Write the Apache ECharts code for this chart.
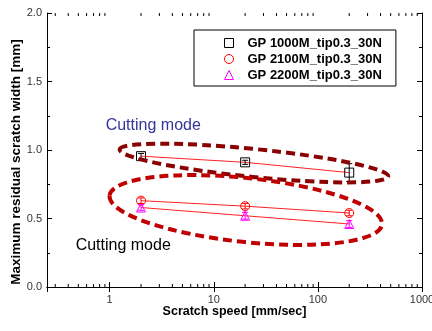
<!DOCTYPE html>
<html>
<head>
<meta charset="utf-8">
<script src="https://cdn.jsdelivr.net/npm/echarts@6/dist/echarts.min.js"></script>
<style>
  html, body { margin: 0; padding: 0; background: #fff; }
  #chart { width: 432px; height: 331px; }
</style>
</head>
<body>
<div id="chart"></div>
<script>
// 数据
var speeds = [2, 20, 200];
var gp1000 = [0.955, 0.91, 0.835];
var gp2100 = [0.63, 0.59, 0.54];
var gp2200 = [0.58, 0.52, 0.46];
var err1000 = [0.02, 0.015, 0.065];
var err2100 = [0.02, 0.02, 0.02];
var err2200 = [0.02, 0.025, 0.025];
var seriesNames = ['GP 1000M_tip0.3_30N', 'GP 2100M_tip0.3_30N', 'GP 2200M_tip0.3_30N'];
var xMinorTicks = [0.3, 0.4, 0.5, 0.6, 0.7, 0.8, 0.9,
  2, 3, 4, 5, 6, 7, 8, 9,
  20, 30, 40, 50, 60, 70, 80, 90,
  200, 300, 400, 500, 600, 700, 800, 900];
var annotationText = 'Cutting mode';

var font = 'Liberation Sans, Arial, sans-serif';
var zip = function(ys) { return speeds.map(function(x, i) { return [x, ys[i]]; }); };
var zipErr = function(ys, es) { return speeds.map(function(x, i) { return [x, ys[i], es[i]]; }); };

var lineSeries = function(name, ys, symbol, color) {
  return {
    name: name,
    type: 'line',
    data: zip(ys),
    symbol: symbol,
    symbolSize: 9,
    itemStyle: { color: 'rgba(0,0,0,0)', borderColor: color, borderWidth: 1 },
    lineStyle: { color: '#f22', width: 1 },
    emphasis: { disabled: true },
    z: 3
  };
};

var errSeries = function(ys, es, color) {
  return {
    type: 'custom',
    data: zipErr(ys, es),
    silent: true,
    z: 4,
    renderItem: function(params, api) {
      var hi = api.coord([api.value(0), api.value(1) + api.value(2)]);
      var lo = api.coord([api.value(0), api.value(1) - api.value(2)]);
      var st = { stroke: color, lineWidth: 1 };
      return {
        type: 'group',
        children: [
          { type: 'line', shape: { x1: hi[0], y1: hi[1], x2: lo[0], y2: lo[1] }, style: st },
          { type: 'line', shape: { x1: hi[0] - 3, y1: hi[1], x2: hi[0] + 3, y2: hi[1] }, style: st },
          { type: 'line', shape: { x1: lo[0] - 3, y1: lo[1], x2: lo[0] + 3, y2: lo[1] }, style: st }
        ]
      };
    }
  };
};

var tickStyle = { show: true, inside: true, length: 5, lineStyle: { color: '#000', width: 1 } };
var minorStyle = { show: true, splitNumber: 2, length: 3, lineStyle: { color: '#000', width: 1 } };

var option = {
  animation: false,
  backgroundColor: '#fff',
  grid: { left: 47, right: 10, top: 13, bottom: 44, outerBoundsMode: 'none', containLabel: false },
  legend: {
    orient: 'vertical',
    left: 194,
    top: 30,
    padding: [5, 14, 3, 30],
    itemWidth: 9,
    itemHeight: 9,
    itemGap: 0,
    borderColor: '#000',
    borderWidth: 1,
    borderRadius: 0,
    selectedMode: false,
    textStyle: { fontFamily: font, fontSize: 13, fontWeight: 'bold', color: '#000', lineHeight: 16, padding: [0, 0, 0, 9] },
    data: [
      { name: seriesNames[0], icon: 'rect', itemStyle: { color: 'rgba(0,0,0,0)', borderColor: '#000', borderWidth: 1 } },
      { name: seriesNames[1], icon: 'circle', itemStyle: { color: 'rgba(0,0,0,0)', borderColor: '#f00', borderWidth: 1 } },
      { name: seriesNames[2], icon: 'triangle', itemStyle: { color: 'rgba(0,0,0,0)', borderColor: '#f0f', borderWidth: 1 } }
    ]
  },
  xAxis: [
    {
      type: 'log', logBase: 10, min: 0.25, max: 1000, position: 'bottom',
      axisLine: { lineStyle: { color: '#000', width: 1 } },
      axisTick: tickStyle,
      axisLabel: {
        showMinLabel: false, fontFamily: font, fontSize: 11, color: '#333', margin: 7,
        formatter: function(v) { return String(Math.round(v)); }
      },
      splitLine: { show: false },
      name: 'Scratch speed [mm/sec]',
      nameLocation: 'middle',
      nameGap: 18,
      nameMoveOverlap: false,
      nameTextStyle: { fontFamily: font, fontSize: 12.5, fontWeight: 'bold', color: '#000' }
    },
    {
      type: 'log', logBase: 10, min: 0.25, max: 1000, position: 'top',
      axisLine: { lineStyle: { color: '#000', width: 1 } },
      axisTick: tickStyle,
      axisLabel: { show: false },
      splitLine: { show: false }
    }
  ],
  yAxis: [
    {
      type: 'value', min: 0, max: 2, interval: 0.5, position: 'left',
      axisLine: { show: true, lineStyle: { color: '#000', width: 1 } },
      axisTick: tickStyle,
      minorTick: minorStyle,
      axisLabel: { fontFamily: font, fontSize: 11, color: '#333', margin: 5, formatter: function(v) { return v.toFixed(1); } },
      splitLine: { show: false },
      name: 'Maximum residual scratch width [mm]',
      nameLocation: 'middle',
      nameGap: 24,
      nameMoveOverlap: false,
      nameTextStyle: { fontFamily: font, fontSize: 13.5, fontWeight: 'bold', color: '#000', padding: [0, 24, 0, 0] }
    },
    {
      type: 'value', min: 0, max: 2, interval: 0.5, position: 'right',
      axisLine: { show: true, lineStyle: { color: '#000', width: 1 } },
      axisTick: tickStyle,
      minorTick: minorStyle,
      axisLabel: { show: false },
      splitLine: { show: false }
    }
  ],
  series: [
    lineSeries(seriesNames[0], gp1000, 'rect', '#000'),
    lineSeries(seriesNames[1], gp2100, 'circle', '#f00'),
    lineSeries(seriesNames[2], gp2200, 'triangle', '#f0f'),
    errSeries(gp1000, err1000, '#000'),
    errSeries(gp2100, err2100, '#f00'),
    errSeries(gp2200, err2200, '#f0f'),
    {
      // log轴的次刻度（上下两边）
      type: 'custom',
      data: xMinorTicks.map(function(v) { return [v, 0]; }),
      silent: true,
      renderItem: function(params, api) {
        var b = api.coord([api.value(0), 0]);
        var t = api.coord([api.value(0), 2]);
        var st = { stroke: '#000', lineWidth: 1 };
        return {
          type: 'group',
          children: [
            { type: 'line', shape: { x1: b[0], y1: b[1], x2: b[0], y2: b[1] - 3 }, style: st },
            { type: 'line', shape: { x1: t[0], y1: t[1], x2: t[0], y2: t[1] + 3 }, style: st }
          ]
        };
      }
    }
  ]
};

var myChart = echarts.init(document.getElementById('chart'), null, { renderer: 'canvas' });
myChart.setOption(option);

// 注释：虚线椭圆和文字
var px = function(p) { return myChart.convertToPixel({ xAxisIndex: 0, yAxisIndex: 0 }, p); };
var upC = px([24.3, 0.905]);
var lowC = px([20.3, 0.562]);
var t1 = px([0.915, 1.18]);
var t2 = px([0.471, 0.30]);
myChart.setOption({
  graphic: [
    {
      type: 'ellipse', x: upC[0], y: upC[1], rotation: -0.1, z: 10,
      shape: { cx: 0, cy: 0, rx: 135, ry: 14 },
      style: { fill: 'none', stroke: '#8b0000', lineWidth: 4, lineDash: [9, 5] }
    },
    {
      type: 'ellipse', x: lowC[0], y: lowC[1], rotation: -0.105, z: 10,
      shape: { cx: 0, cy: 0, rx: 137, ry: 32 },
      style: { fill: 'none', stroke: '#c00000', lineWidth: 4, lineDash: [9, 5] }
    },
    {
      type: 'text', x: t1[0], y: t1[1], z: 10,
      style: { text: annotationText, fontFamily: font, fontSize: 16, fill: '#333399', verticalAlign: 'middle' }
    },
    {
      type: 'text', x: t2[0], y: t2[1], z: 10,
      style: { text: annotationText, fontFamily: font, fontSize: 16, fill: '#000', verticalAlign: 'middle' }
    }
  ]
});
</script>
</body>
</html>
